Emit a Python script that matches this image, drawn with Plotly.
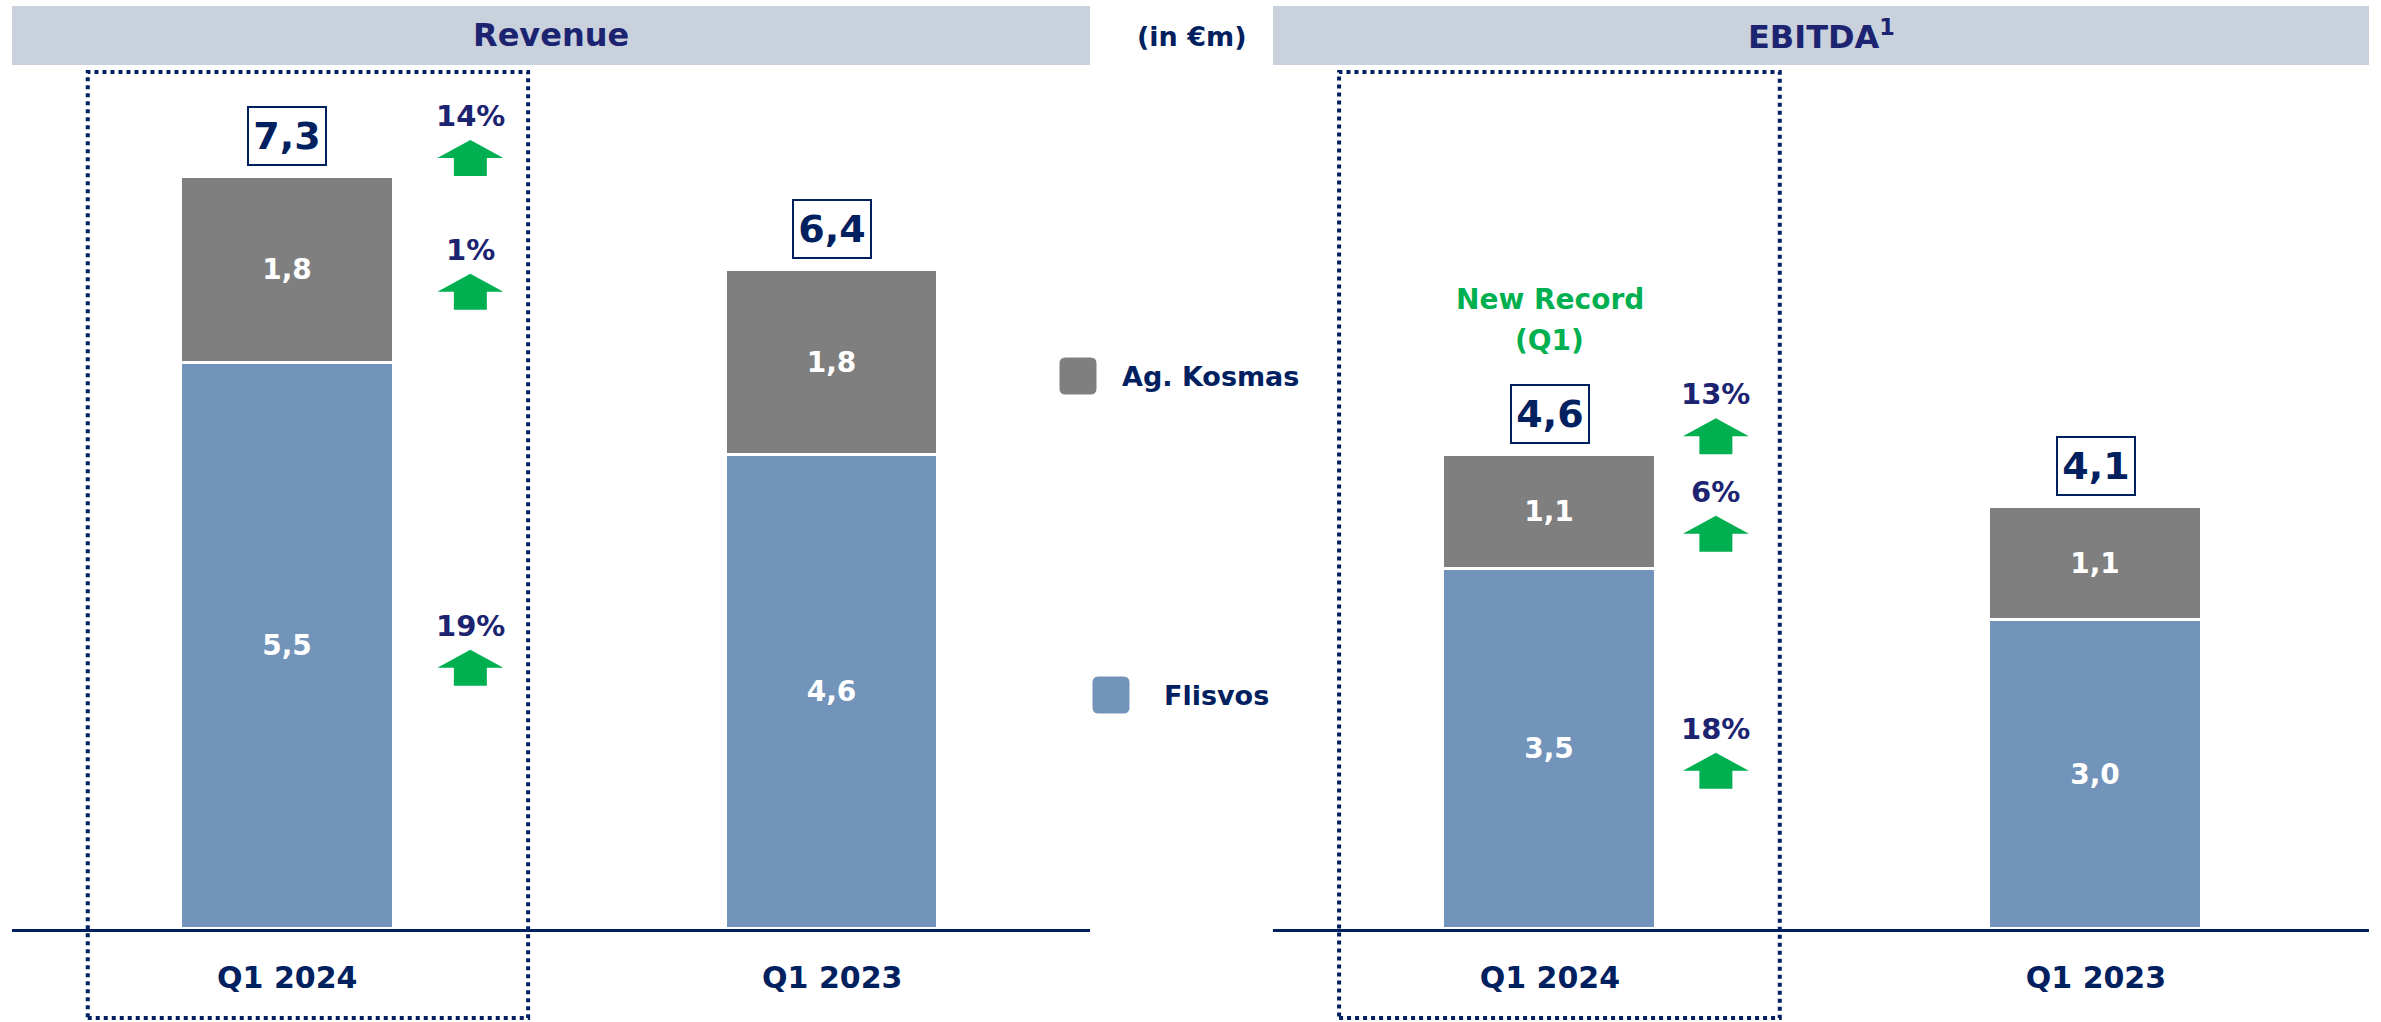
import plotly.graph_objects as go

# ---------------- data ----------------
categories = ["Q1 2024", "Q1 2023"]
series_names = ["Flisvos", "Ag. Kosmas"]

revenue_flisvos = [5.5, 4.6]
revenue_kosmas = [1.8, 1.8]
revenue_total = [7.3, 6.4]

ebitda_flisvos = [3.5, 3.0]
ebitda_kosmas = [1.1, 1.1]
ebitda_total = [4.6, 4.1]

# growth Q1 2024 vs Q1 2023: total, Ag. Kosmas, Flisvos
revenue_growth = ["14%", "1%", "19%"]
ebitda_growth = ["13%", "6%", "18%"]

panel_titles = ["Revenue", "EBITDA<sup>1</sup>"]
unit_label = "(in €m)"
record_label = ["New Record", "(Q1)"]

# ---------------- style ----------------
W, H = 2381, 1022
NAVY = "#002060"
NAVY2 = "#1C2371"
GREEN = "#00B050"
GREY = "#7F7F7F"
BLUE = "#7394BA"
HEAD = "#C9D1DD"
FONT = "DejaVu Sans"


def fx(p):
    return p / W


def fy(p):
    return 1 - p / H


def fmt(v):
    return f"{v:.1f}".replace(".", ",")


fig = go.Figure()

panels = [
    dict(xa="x", ya="y", fl=revenue_flisvos, ko=revenue_kosmas, tot=revenue_total,
         gr=revenue_growth, dom=(12, 1090), rng=[-0.505, 1.473], pct_dx=0.336,
         box=(-0.366, 0.442)),
    dict(xa="x2", ya="y2", fl=ebitda_flisvos, ko=ebitda_kosmas, tot=ebitda_total,
         gr=ebitda_growth, dom=(1273, 2369), rng=[-0.507, 1.5], pct_dx=0.304,
         box=(-0.386, 0.421)),
]

for p in panels:
    fig.add_trace(go.Bar(
        x=categories, y=p["fl"], name=series_names[0], xaxis=p["xa"], yaxis=p["ya"],
        marker=dict(color=BLUE, line=dict(color="white", width=3)), width=0.39,
        text=[fmt(v) for v in p["fl"]], textposition="inside", insidetextanchor="middle",
        textangle=0, textfont=dict(color="white", size=28, family=FONT, weight="bold"),
        showlegend=False, hoverinfo="skip"))
    fig.add_trace(go.Bar(
        x=categories, y=p["ko"], name=series_names[1], xaxis=p["xa"], yaxis=p["ya"],
        marker=dict(color=GREY, line=dict(color="white", width=3)), width=0.39,
        text=[fmt(v) for v in p["ko"]], textposition="inside", insidetextanchor="middle",
        textangle=0, textfont=dict(color="white", size=28, family=FONT, weight="bold"),
        showlegend=False, hoverinfo="skip"))

annotations = []
shapes = []

Y_TOP_PX = 70
Y_BASE_PX = 929
YMAX = (Y_BASE_PX - Y_TOP_PX) / 103.0

axis_common = dict(type="category", showline=True, linecolor=NAVY,
                   linewidth=3, ticks="", showgrid=False, zeroline=False,
                   tickfont=dict(size=30, color=NAVY, family=FONT, weight="bold"),
                   ticklabelstandoff=20, fixedrange=True)
yaxis_common = dict(range=[0, YMAX], domain=[fy(Y_BASE_PX), fy(Y_TOP_PX)], visible=False,
                    fixedrange=True)

fig.update_layout(
    xaxis=dict(domain=[fx(panels[0]["dom"][0]), fx(panels[0]["dom"][1])], anchor="y",
               range=panels[0]["rng"], **axis_common),
    yaxis=dict(anchor="x", **yaxis_common),
    xaxis2=dict(domain=[fx(panels[1]["dom"][0]), fx(panels[1]["dom"][1])], anchor="y2",
                range=panels[1]["rng"], **axis_common),
    yaxis2=dict(anchor="x2", **yaxis_common),
)


def arrow_path(cy):
    # block up-arrow, pixel coords relative to anchor, y up
    return (f"M -33 {cy} L 0 {cy + 18} L 33 {cy} L 16.5 {cy} L 16.5 {cy - 18} "
            f"L -16.5 {cy - 18} L -16.5 {cy} Z")


TOTAL_SHIFT = 41
for i, p in enumerate(panels):
    xa, ya = p["xa"], p["ya"]
    # totals in boxes
    for c, t in zip(categories, p["tot"]):
        annotations.append(dict(
            x=c, y=t, xref=xa, yref=ya, text=f"<b>{fmt(t)}</b>", showarrow=False,
            yshift=TOTAL_SHIFT, yanchor="middle", xanchor="center",
            font=dict(size=38, color=NAVY, family=FONT),
            bordercolor=NAVY, borderwidth=2, bgcolor="white", width=74, height=54))
    # growth labels with green arrows (for first category)
    fl0, ko0, tot0 = p["fl"][0], p["ko"][0], p["tot"][0]
    anchors = [(tot0, TOTAL_SHIFT), (fl0 + ko0 / 2, 0), (fl0 / 2, 0)]
    xpos = 0 + p["pct_dx"]
    for g, (yv, sh) in zip(p["gr"], anchors):
        annotations.append(dict(
            x=xpos, y=yv, xref=xa, yref=ya, text=f"<b>{g}</b>", showarrow=False,
            yshift=sh + 20, yanchor="middle", xanchor="center",
            font=dict(size=29, color=NAVY2, family=FONT)))
        shapes.append(dict(
            type="path", xref=xa, yref=ya, xsizemode="pixel", ysizemode="pixel",
            xanchor=xpos, yanchor=yv, path=arrow_path(sh - 22),
            fillcolor=GREEN, line=dict(width=0)))
    # dotted highlight box around Q1 2024
    shapes.append(dict(
        type="rect", xref=xa, yref="paper", x0=p["box"][0], x1=p["box"][1],
        y0=fy(1018), y1=fy(72),
        line=dict(color=NAVY, width=4, dash="4px,4px"), fillcolor="rgba(0,0,0,0)",
        layer="above"))

# New record label over EBITDA Q1 2024
annotations.append(dict(x=categories[0], y=ebitda_total[0], xref="x2", yref="y2",
                        text=f"<b>{record_label[0]}</b>", showarrow=False, yshift=156,
                        xanchor="center", yanchor="middle",
                        font=dict(size=28, color=GREEN, family=FONT)))
annotations.append(dict(x=categories[0], y=ebitda_total[0], xref="x2", yref="y2",
                        text=f"<b>{record_label[1]}</b>", showarrow=False, yshift=115,
                        xanchor="center", yanchor="middle",
                        font=dict(size=28, color=GREEN, family=FONT)))

# headers
headers = [(12, 1090), (1273, 2369)]
for (x0, x1), title in zip(headers, panel_titles):
    shapes.append(dict(type="rect", xref="paper", yref="paper", x0=fx(x0), x1=fx(x1),
                       y0=fy(65), y1=fy(6), fillcolor=HEAD, line=dict(width=0), layer="below"))
    annotations.append(dict(x=fx((x0 + x1) / 2), y=fy(35), xref="paper", yref="paper",
                            text=f"<b>{title}</b>", showarrow=False, xanchor="center",
                            yanchor="middle",
                            font=dict(size=32, color=NAVY2, family=FONT)))
annotations.append(dict(x=fx(1191), y=fy(36), xref="paper", yref="paper",
                        text=f"<b>{unit_label}</b>", showarrow=False, xanchor="center",
                        yanchor="middle", font=dict(size=27, color=NAVY, family=FONT)))

# legend (custom)
legend_items = [(series_names[1], GREY, (1078, 376), 1120),
                (series_names[0], BLUE, (1111, 695), 1162)]


def rounded_square(s, r):
    h = s / 2
    return (f"M {-h + r} {-h} L {h - r} {-h} Q {h} {-h} {h} {-h + r} L {h} {h - r} "
            f"Q {h} {h} {h - r} {h} L {-h + r} {h} Q {-h} {h} {-h} {h - r} "
            f"L {-h} {-h + r} Q {-h} {-h} {-h + r} {-h} Z")


for name, col, (cx, cy), tx in legend_items:
    shapes.append(dict(type="path", xref="paper", yref="paper", xsizemode="pixel",
                       ysizemode="pixel", xanchor=fx(cx), yanchor=fy(cy),
                       path=rounded_square(37, 6), fillcolor=col, line=dict(width=0)))
    annotations.append(dict(x=fx(tx), y=fy(cy), xref="paper", yref="paper",
                            text=f"<b>{name}</b>", showarrow=False, xanchor="left",
                            yanchor="middle", font=dict(size=27, color=NAVY, family=FONT)))

fig.update_layout(
    width=W, height=H, margin=dict(l=0, r=0, t=0, b=0),
    paper_bgcolor="white", plot_bgcolor="rgba(0,0,0,0)",
    barmode="stack", bargap=0, showlegend=False,
    annotations=annotations, shapes=shapes,
    font=dict(family=FONT, color=NAVY),
)

fig.write_html("out.html", config={"displayModeBar": False},
               post_script="document.body.style.margin='0';document.body.style.overflow='hidden';")
